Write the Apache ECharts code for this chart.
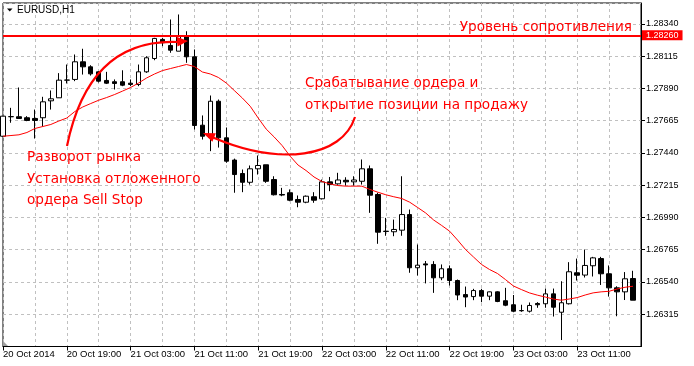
<!DOCTYPE html>
<html>
<head>
<meta charset="utf-8">
<script src="https://cdn.jsdelivr.net/npm/echarts@6/dist/echarts.min.js"></script>
<style>
html,body{margin:0;padding:0;background:#fff;}
#c{width:694px;height:366px;}
</style>
</head>
<body>
<div id="c"></div>
<script>
// ---- data (EURUSD H1, 20 Oct 2014 11:00 .. 23 Oct 2014 18:00) ----
const symbolTitle = 'EURUSD,H1';
const firstLabel = '20 Oct 2014';
const openP = [1.27556,1.27692,1.27692,1.27685,1.27680,1.27685,1.27803,1.27824,1.27947,1.27952,
  1.28075,1.28040,1.28005,1.27945,1.27936,1.27936,1.27926,1.27917,1.28005,1.28098,
  1.28231,1.28189,1.28149,1.28258,1.28110,1.27633,1.27547,1.27800,1.27545,1.27390,
  1.27296,1.27235,1.27329,1.27357,1.27254,1.27150,1.27162,1.27115,1.27096,1.27134,
  1.27120,1.27238,1.27224,1.27249,1.27238,1.27242,1.27329,1.27150,1.26894,1.26890,
  1.26901,1.27010,1.26639,1.26666,1.26662,1.26569,1.26632,1.26550,1.26452,1.26438,
  1.26480,1.26441,1.26471,1.26409,1.26381,1.26339,1.26336,1.26390,1.26388,1.26457,
  1.26329,1.26388,1.26604,1.26588,1.26653,1.26703,1.26597,1.26499,1.26471,1.26564];
const closeP = [1.27696,1.27693,1.27680,1.27666,1.27666,1.27796,1.27817,1.27947,1.27948,1.28075,
  1.28040,1.27991,1.27940,1.27926,1.27924,1.27912,1.27917,1.28005,1.28103,1.28238,
  1.28208,1.28156,1.28258,1.28110,1.27631,1.27556,1.27800,1.27545,1.27382,1.27289,
  1.27235,1.27329,1.27352,1.27242,1.27148,1.27146,1.27110,1.27096,1.27138,1.27110,
  1.27238,1.27219,1.27251,1.27238,1.27251,1.27329,1.27145,1.26887,1.26892,1.26906,
  1.27010,1.26639,1.26657,1.26659,1.26569,1.26632,1.26550,1.26449,1.26435,1.26480,
  1.26441,1.26471,1.26404,1.26378,1.26336,1.26341,1.26376,1.26381,1.26457,1.26364,
  1.26395,1.26611,1.26587,1.26655,1.26708,1.26597,1.26499,1.26471,1.26562,1.26413];
const lowP = [1.27554,1.27650,1.27680,1.27661,1.27540,1.27624,1.27742,1.27823,1.27924,1.27940,
  1.27986,1.27979,1.27931,1.27920,1.27882,1.27905,1.27905,1.27905,1.27998,1.28086,
  1.28184,1.28138,1.28149,1.28068,1.27603,1.27533,1.27452,1.27477,1.27371,1.27162,
  1.27166,1.27219,1.27289,1.27231,1.27143,1.27138,1.27103,1.27061,1.27089,1.27092,
  1.27115,1.27173,1.27218,1.27212,1.27212,1.27219,1.27022,1.26806,1.26862,1.26859,
  1.26862,1.26604,1.26585,1.26530,1.26464,1.26552,1.26515,1.26413,1.26364,1.26413,
  1.26399,1.26413,1.26399,1.26371,1.26329,1.26332,1.26327,1.26360,1.26360,1.26299,
  1.26135,1.26383,1.26550,1.26571,1.26578,1.26519,1.26438,1.26301,1.26414,1.26413];
const highP = [1.27696,1.27754,1.27896,1.27696,1.27742,1.27831,1.27875,1.27996,1.28056,1.28126,
  1.28166,1.28051,1.28009,1.28005,1.27952,1.28016,1.27952,1.28056,1.28114,1.28242,
  1.28242,1.28370,1.28405,1.28288,1.28161,1.27701,1.27840,1.27812,1.27617,1.27400,
  1.27324,1.27352,1.27422,1.27357,1.27277,1.27196,1.27185,1.27143,1.27143,1.27166,
  1.27254,1.27272,1.27301,1.27270,1.27277,1.27394,1.27352,1.27162,1.26987,1.26975,
  1.27277,1.27045,1.26801,1.26686,1.26685,1.26662,1.26655,1.26557,1.26508,1.26492,
  1.26492,1.26473,1.26475,1.26499,1.26449,1.26381,1.26397,1.26399,1.26494,1.26494,
  1.26545,1.26678,1.26703,1.26766,1.26715,1.26715,1.26655,1.26510,1.26609,1.26618];
const maP = [1.27556,1.27561,1.27566,1.27582,1.27610,1.27624,1.27638,1.27662,1.27683,1.27728,
  1.27760,1.27784,1.27807,1.27826,1.27847,1.27871,1.27896,1.27927,1.27962,1.27990,
  1.28014,1.28028,1.28042,1.28056,1.28042,1.28004,1.27990,1.27966,1.27927,1.27875,
  1.27823,1.27765,1.27683,1.27606,1.27551,1.27491,1.27417,1.27355,1.27317,1.27272,
  1.27240,1.27224,1.27212,1.27208,1.27208,1.27208,1.27185,1.27166,1.27148,1.27134,
  1.27122,1.27096,1.27059,1.27021,1.26972,1.26934,1.26894,1.26832,1.26766,1.26714,
  1.26662,1.26627,1.26599,1.26557,1.26512,1.26487,1.26464,1.26448,1.26435,1.26421,
  1.26413,1.26421,1.26431,1.26449,1.26464,1.26471,1.26475,1.26491,1.26503,1.26510];
const resistanceLevel = 1.28260;
const yTickMin = 1.26090, yTickMax = 1.28485, yTickStep = 0.00225;
const noteResistance = 'Уровень сопротивления';
const noteTrigger = ['Срабатывание ордера и', 'открытие позиции на продажу'];
const noteReversal = ['Разворот рынка', 'Установка отложенного', 'ордера Sell Stop'];

// hourly category labels (80 bars + 1 empty slot for chart shift)
const months = 'Oct';
const categories = [];
for (let i = 0; i <= 80; i++) {
  const h = 11 + i;
  const day = 20 + Math.floor(h / 24);
  const hr = h % 24;
  categories.push(day + ' ' + months + ' ' + (hr < 10 ? '0' : '') + hr + ':00');
}

const candleData = openP.map((o, i) => [o, closeP[i], lowP[i], highP[i]]);
const lastCat = categories.length - 1;

const chart = echarts.init(document.getElementById('c'), null, {renderer: 'canvas'});
const axisFont = 'Liberation Sans';
const red = '#ff0000';
const noteFont = '13.6px "DejaVu Sans"';

chart.setOption({
  animation: false,
  backgroundColor: '#ffffff',
  grid: {left: 2, right: 53, top: 3, bottom: 19.5, show: true, borderColor: '#000', borderWidth: 1, backgroundColor: '#fff'},
  xAxis: {
    type: 'category', data: categories, boundaryGap: false,
    axisLine: {show: true, lineStyle: {color: '#000', width: 1}},
    axisTick: {show: true, length: 4, interval: (i) => i % 8 === 0 && i < 80, lineStyle: {color: '#000'}},
    axisLabel: {
      interval: (i) => i % 8 === 0 && i < 80,
      align: 'left', margin: 3, color: '#000', fontSize: 9.5, fontFamily: axisFont,
      formatter: (v, i) => i === 0 ? firstLabel : v
    },
    splitLine: {show: true, interval: (i) => i % 4 === 0, lineStyle: {color: '#c0c0c0', type: [3, 3], width: 1}}
  },
  yAxis: {
    type: 'value', position: 'right', min: yTickMin, max: yTickMax, interval: yTickStep,
    axisLine: {show: true, lineStyle: {color: '#000'}},
    axisTick: {show: true, length: 4, lineStyle: {color: '#000'}},
    axisLabel: {
      formatter: (v) => v.toFixed(5), showMinLabel: false, showMaxLabel: false,
      color: '#000', fontSize: 9, fontFamily: axisFont, margin: 5
    },
    splitLine: {show: true, lineStyle: {color: '#c0c0c0', type: [3, 3], width: 1}}
  },
  series: [
    {
      type: 'candlestick', data: candleData, barWidth: 5,
      itemStyle: {color: '#ffffff', color0: '#000000', borderColor: '#000000', borderColor0: '#000000', borderWidth: 1},
      z: 3
    },
    {
      type: 'line', data: maP, showSymbol: false, symbol: 'none', smooth: false,
      lineStyle: {color: red, width: 1}, z: 4,
      markLine: {
        silent: true, symbol: ['none', 'none'], animation: false,
        lineStyle: {color: red, width: 2, type: 'solid'},
        label: {
          show: true, position: 'end', distance: 1,
          formatter: () => resistanceLevel.toFixed(5),
          color: '#fff', backgroundColor: red, padding: [1, 4, 0, 4],
          fontSize: 9, fontFamily: axisFont
        },
        data: [[{coord: [0, resistanceLevel]}, {coord: [lastCat, resistanceLevel]}]]
      }
    }
  ],
  graphic: [
    {type: 'polygon', shape: {points: [[7, 8.5], [12.5, 8.5], [9.75, 11.5]]}, style: {fill: '#000'}, z: 100},
    {type: 'text', x: 17, y: 10, style: {text: symbolTitle, font: '10px "Liberation Sans"', fill: '#000', verticalAlign: 'middle'}, z: 100},
    {type: 'polygon', shape: {points: [[3, 341], [3, 346], [8, 346]]}, style: {fill: '#a0a0a0'}, z: 100},
    {type: 'text', x: 632, y: 27.3, style: {text: noteResistance, font: noteFont, fill: red, align: 'right', verticalAlign: 'middle'}, z: 100},
    {type: 'text', x: 305, y: 83.3, style: {text: noteTrigger[0], font: noteFont, fill: red, verticalAlign: 'middle'}, z: 100},
    {type: 'text', x: 305, y: 105, style: {text: noteTrigger[1], font: noteFont, fill: red, verticalAlign: 'middle'}, z: 100},
    {type: 'text', x: 27, y: 157.7, style: {text: noteReversal[0], font: noteFont, fill: red, verticalAlign: 'middle'}, z: 100},
    {type: 'text', x: 27, y: 179.3, style: {text: noteReversal[1], font: noteFont, fill: red, verticalAlign: 'middle'}, z: 100},
    {type: 'text', x: 27, y: 200, style: {text: noteReversal[2], font: noteFont, fill: red, verticalAlign: 'middle'}, z: 100},
    // arrow 1 (reversal -> sell stop)
    {type: 'bezierCurve', shape: {x1: 67, y1: 146, cpx1: 89, cpy1: 38, x2: 178, y2: 42}, style: {stroke: red, lineWidth: 2.2, fill: null}, z: 100},
    {type: 'polygon', shape: {points: [[188, 41], [176.5, 36.8], [177.5, 46.5]]}, style: {fill: red}, z: 100},
    // arrow 2 (order triggered)
    {type: 'bezierCurve', shape: {x1: 355, y1: 117, cpx1: 342, cpy1: 158, cpx2: 280, cpy2: 166, x2: 213, y2: 137.5}, style: {stroke: red, lineWidth: 2.2, fill: null}, z: 100},
    {type: 'polygon', shape: {points: [[203, 133], [215.8, 133.3], [212.4, 141.7]]}, style: {fill: red}, z: 100}
  ]
});
</script>
</body>
</html>
